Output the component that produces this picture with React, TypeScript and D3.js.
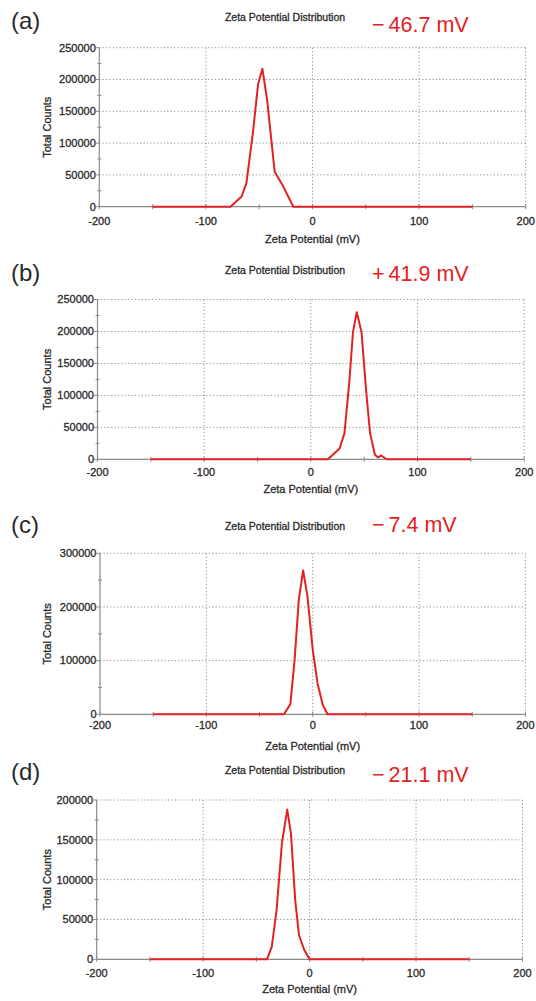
import React from "react";
import * as d3 from "d3";

// ---- data ----
const panelLetters = ["(a)", "(b)", "(c)", "(d)"];
const zetaValues = ["−46.7 mV", "+41.9 mV", "−7.4 mV", "−21.1 mV"];
const xTicks = [-200, -100, 0, 100, 200];
const xMinorTicks = [-150, -50, 50, 150];

const aX = [-150, -77, -66.5, -62, -56, -51, -47, -42.5, -35.5, -27.5, -18, 150];
const aY = [0, 0, 16000, 37000, 115000, 193000, 217000, 167000, 55000, 32000, 0, 0];

const bX = [-150, 16, 27, 31.5, 36, 39.5, 43, 47.5, 52, 55.5, 60, 63, 66, 71, 150];
const bY = [0, 0, 17000, 41000, 120000, 199000, 230000, 199000, 104000, 41000, 7000, 3000, 6000, 0, 0];

const cX = [-150, -27, -21, -17, -13, -9, -5, 0, 4.5, 9.5, 14, 150];
const cY = [0, 0, 19000, 102000, 215000, 268000, 221000, 121000, 58000, 17500, 0, 0];

const dX = [-150, -40, -35.5, -31, -26, -21, -17.5, -13.5, -10, -5, 0, 150];
const dY = [0, 0, 16000, 62000, 146000, 188000, 158000, 74000, 30500, 11700, 0, 0];

const aYTicks = [0, 50000, 100000, 150000, 200000, 250000];
const bYTicks = [0, 50000, 100000, 150000, 200000, 250000];
const cYTicks = [0, 100000, 200000, 300000];
const dYTicks = [0, 50000, 100000, 150000, 200000];

const seriesX = [aX, bX, cX, dX];
const seriesY = [aY, bY, cY, dY];
const yTickSets = [aYTicks, bYTicks, cYTicks, dYTicks];

// ---- layout (pixels) ----
const layouts = [
  { left: 99.3, right: 525.7, top: 47.7, bottom: 206.7, letterY: 29, titleY: 17.3, valueY: 32, tickY: 221.5, xTitleY: 239.3 },
  { left: 97.5, right: 524.2, top: 299.5, bottom: 459.3, letterY: 281, titleY: 270, valueY: 280.5, tickY: 472.3, xTitleY: 489.3 },
  { left: 100, right: 525.4, top: 553.3, bottom: 714.3, letterY: 533, titleY: 526.7, valueY: 532, tickY: 725, xTitleY: 746 },
  { left: 96.7, right: 522.5, top: 800, bottom: 959.3, letterY: 780, titleY: 770, valueY: 781.5, tickY: 973, xTitleY: 989.3 },
];

const FONT = "'Liberation Sans', Arial, sans-serif";
const RED = "#e22222";
const AXIS = "#8a8a8a";
const GRID = "#8f8f8f";
const TXT = "#2a2a2a";
const TXT_STROKE = { stroke: TXT, strokeWidth: 0.3 };

function Panel({ idx }: { idx: number }) {
  const L = layouts[idx];
  const yTicks = yTickSets[idx];
  const yMax = yTicks[yTicks.length - 1];
  const step = yTicks[1] - yTicks[0];
  const x = d3.scaleLinear().domain([-200, 200]).range([L.left, L.right]);
  const y = d3.scaleLinear().domain([0, yMax]).range([L.bottom, L.top]);
  const yMinor = d3.range(step / 2, yMax, step);
  const pts = seriesX[idx].map((v, i) => [v, seriesY[idx][i]] as [number, number]);
  const line = d3
    .line<[number, number]>()
    .x((d) => x(d[0]))
    .y((d) => y(d[1]));
  const cx = (L.left + L.right) / 2;
  const valueText = zetaValues[idx];
  const sign = valueText.slice(0, 1);
  const rest = valueText.slice(1);
  return (
    <g>
      {/* grid */}
      {yTicks
        .filter((t) => t > 0)
        .map((t) => (
          <line key={"gy" + t} x1={L.left} x2={L.right} y1={y(t)} y2={y(t)} stroke={GRID} strokeWidth={1} strokeDasharray="1.2 2.2" />
        ))}
      {xTicks
        .filter((t) => t > -200)
        .map((t) => (
          <line key={"gx" + t} x1={x(t)} x2={x(t)} y1={L.top} y2={L.bottom} stroke={GRID} strokeWidth={1} strokeDasharray="1.2 2.2" />
        ))}
      {/* axes */}
      <line x1={L.left} x2={L.left} y1={L.top} y2={L.bottom} stroke={AXIS} strokeWidth={1.2} />
      <line x1={L.left} x2={L.right} y1={L.bottom} y2={L.bottom} stroke={AXIS} strokeWidth={1.2} />
      {yTicks.map((t) => (
        <line key={"ty" + t} x1={L.left - 3.5} x2={L.left} y1={y(t)} y2={y(t)} stroke={AXIS} strokeWidth={1} />
      ))}
      {yMinor.map((t) => (
        <line key={"tym" + t} x1={L.left - 2} x2={L.left + 2} y1={y(t)} y2={y(t)} stroke={AXIS} strokeWidth={1} />
      ))}
      {xTicks.concat(xMinorTicks).map((t) => (
        <line key={"tx" + t} x1={x(t)} x2={x(t)} y1={L.bottom - 2.5} y2={L.bottom + 2.5} stroke={AXIS} strokeWidth={1} />
      ))}
      {/* tick labels */}
      {yTicks.map((t) => (
        <text key={"ly" + t} x={L.left - 3.5} y={y(t)} dy="0.35em" textAnchor="end" fontSize={11} fill={TXT} {...TXT_STROKE} fontFamily={FONT}>
          {t}
        </text>
      ))}
      {xTicks.map((t) => (
        <text key={"lx" + t} x={x(t)} y={L.tickY} dy="0.35em" textAnchor="middle" fontSize={11} fill={TXT} {...TXT_STROKE} fontFamily={FONT}>
          {t}
        </text>
      ))}
      {/* axis titles */}
      <text x={cx} y={L.xTitleY} dy="0.35em" textAnchor="middle" fontSize={11} fill={TXT} {...TXT_STROKE} fontFamily={FONT}>
        Zeta Potential (mV)
      </text>
      <text
        transform={`translate(47.5,${(L.top + L.bottom) / 2}) rotate(-90)`}
        dy="0.35em"
        textAnchor="middle"
        fontSize={11}
        fill={TXT}
        {...TXT_STROKE}
        fontFamily={FONT}
      >
        Total Counts
      </text>
      {/* titles */}
      <text x={285} y={L.titleY} dy="0.35em" textAnchor="middle" fontSize={10.5} fill={TXT} {...TXT_STROKE} fontFamily={FONT}>
        Zeta Potential Distribution
      </text>
      <text x={372} y={L.valueY} fontSize={21.5} fill={RED} fontFamily={FONT}>
        <tspan>{sign}</tspan>
        <tspan dx={4}>{rest}</tspan>
      </text>
      <text x={11} y={L.letterY} fontSize={24} fill={TXT} fontFamily={FONT}>
        {panelLetters[idx]}
      </text>
      {/* data */}
      <path d={line(pts) || ""} fill="none" stroke={RED} strokeWidth={2} strokeLinejoin="round" />
    </g>
  );
}

export default function App() {
  return (
    <svg width={536} height={1001} style={{ display: "block", position: "absolute", left: 0, top: 0, background: "#fff" }}>
      {[0, 1, 2, 3].map((i) => (
        <Panel key={i} idx={i} />
      ))}
    </svg>
  );
}
